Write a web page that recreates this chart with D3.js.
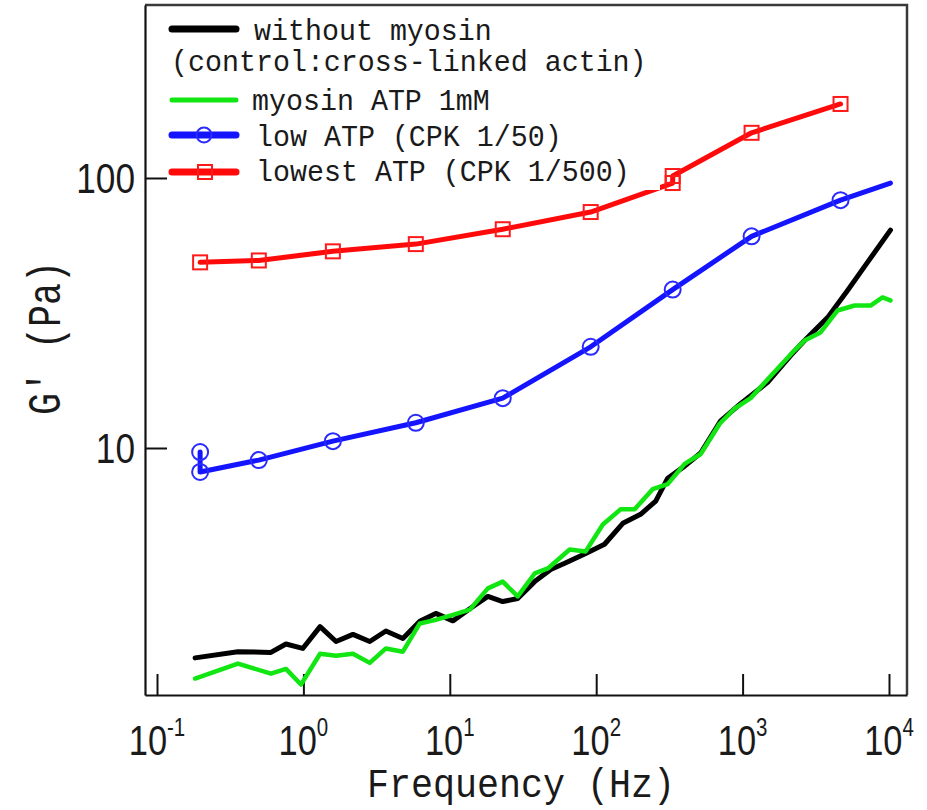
<!DOCTYPE html>
<html>
<head>
<meta charset="utf-8">
<script src="https://cdn.jsdelivr.net/npm/d3@7"></script>
<style>
  body { margin: 0; background: #fff; }
</style>
</head>
<body>
<div id="chart"></div>
<script>
// values (frequency in Hz, G' in Pa)
const blackFreq = [0.182, 0.357, 0.600, 0.760, 0.99, 1.30, 1.67, 2.18, 2.84, 3.66, 4.78, 6.24, 8.02, 10.5, 13.7, 18.2, 23.0, 29.1, 38.0, 48.9, 61.0, 84.8, 114, 152, 201, 255, 308, 402, 517, 708, 969, 1482, 2128, 2650, 3803, 5210, 7130, 10230];
const blackG = [1.67, 1.76, 1.75, 1.88, 1.81, 2.18, 1.92, 2.04, 1.92, 2.10, 1.97, 2.28, 2.44, 2.29, 2.54, 2.82, 2.70, 2.77, 3.20, 3.55, 3.74, 4.07, 4.40, 5.26, 5.68, 6.36, 7.73, 8.57, 9.58, 12.6, 14.6, 17.5, 22.0, 25.0, 30.4, 38.3, 48.7, 64.1];

const greenFreq = [0.182, 0.357, 0.600, 0.760, 0.962, 1.30, 1.67, 2.18, 2.84, 3.66, 4.78, 6.24, 8.02, 10.5, 13.7, 18.2, 23.0, 29.1, 38.0, 46.7, 65.9, 84.8, 111, 147, 183, 243, 308, 402, 517, 697, 882, 1135, 1603, 2264, 2650, 3407, 4448, 5820, 7480, 9030, 10230];
const greenG = [1.40, 1.59, 1.46, 1.52, 1.33, 1.73, 1.70, 1.73, 1.60, 1.81, 1.76, 2.24, 2.31, 2.41, 2.52, 3.02, 3.20, 2.82, 3.43, 3.58, 4.21, 4.14, 5.21, 5.93, 5.93, 7.04, 7.35, 8.73, 9.50, 12.3, 14.0, 15.3, 18.8, 23.0, 25.0, 26.8, 32.3, 33.7, 33.7, 36.1, 35.2];

const blueFreq = [0.197, 0.197, 0.496, 1.59, 5.86, 23.0, 91.7, 333, 1152, 4667, 10230];
const blueG = [9.66, 8.15, 9.02, 10.6, 12.4, 15.3, 23.7, 38.6, 60.8, 82.8, 95.8];
const blueMarked = 10; // the last blue point has no marker

const redFreq = [0.197, 0.496, 1.59, 5.86, 23.0, 91.7, 333, 333, 1152, 4667];
const redG = [48.7, 49.5, 53.5, 56.9, 64.6, 74.8, 95.8, 101.7, 147, 188];

const xExponents = [-1, 0, 1, 2, 3, 4];
const yTicks = [10, 100];

const legendLabels = ["without myosin", "(control:cross-linked actin)", "myosin ATP 1mM", "low ATP (CPK 1/50)", "lowest ATP (CPK 1/500)"];

const width = 927, height = 810;
const frame = { left: 145, right: 907, top: 5, bottom: 695 };
const monoFont = "'Liberation Mono', 'DejaVu Sans Mono', monospace";
const tickFont = "'Liberation Sans', Arial, sans-serif";

const svg = d3.select("#chart")
  .append("svg")
  .attr("width", width)
  .attr("height", height);

const x = d3.scaleLog()
  .domain([Math.pow(10, -1.082), Math.pow(10, 4.123)])
  .range([frame.left, frame.right]);

const y = d3.scaleLog()
  .domain([Math.pow(10, 0.0852), Math.pow(10, 2.6407)])
  .range([frame.bottom, frame.top]);

// top and right frame
svg.append("path")
  .attr("d", `M${frame.left},${frame.top}H${frame.right}V${frame.bottom}`)
  .attr("fill", "none")
  .attr("stroke", "#3a3a3a")
  .attr("stroke-width", 2.5);

// X axis
const xAxis = svg.append("g")
  .attr("transform", `translate(0,${frame.bottom})`)
  .call(d3.axisBottom(x)
    .tickValues(xExponents.map(e => Math.pow(10, e)))
    .tickSize(-21)
    .tickSizeOuter(0)
    .tickFormat(""));
xAxis.select(".domain").attr("stroke", "#111").attr("stroke-width", 2.2);
xAxis.selectAll(".tick line").attr("stroke", "#111").attr("stroke-width", 2);

// Y axis
const yAxis = svg.append("g")
  .attr("transform", `translate(${frame.left},0)`)
  .call(d3.axisLeft(y)
    .tickValues(yTicks)
    .tickSize(-22)
    .tickSizeOuter(0)
    .tickFormat(""));
yAxis.select(".domain").attr("stroke", "#111").attr("stroke-width", 2.2);
yAxis.selectAll(".tick line").attr("stroke", "#111").attr("stroke-width", 2);

// x tick labels 10^n
xExponents.forEach(e => {
  const t = svg.append("text")
    .attr("transform", `translate(${x(Math.pow(10, e))},755) scale(0.82,1)`)
    .attr("text-anchor", "middle")
    .attr("font-family", tickFont)
    .attr("fill", "#1a1a1a");
  t.append("tspan").attr("font-size", 42).text("10");
  t.append("tspan").attr("font-size", 25).attr("dy", -19).text(String(e));
});

// y tick labels
yTicks.forEach(v => {
  svg.append("text")
    .attr("transform", `translate(135,${y(v)}) scale(0.82,1)`)
    .attr("text-anchor", "end")
    .attr("dy", "0.36em")
    .attr("font-family", tickFont)
    .attr("font-size", 43)
    .attr("fill", "#1a1a1a")
    .text(d3.format("d")(v));
});

// axis titles
svg.append("text")
  .attr("transform", "translate(521,797) scale(0.917,1)")
  .attr("text-anchor", "middle")
  .attr("font-family", monoFont)
  .attr("font-size", 40)
  .attr("fill", "#1a1a1a")
  .text("Frequency (Hz)");

svg.append("text")
  .attr("transform", "translate(60,338) rotate(-90) scale(0.797,1)")
  .attr("text-anchor", "middle")
  .attr("font-family", monoFont)
  .attr("font-size", 46)
  .attr("fill", "#1a1a1a")
  .text("G' (Pa)");

// series lines
const line = d3.line()
  .x(d => x(d[0]))
  .y(d => y(d[1]));

function drawLine(freq, g, color, w) {
  svg.append("path")
    .datum(d3.zip(freq, g))
    .attr("fill", "none")
    .attr("stroke", color)
    .attr("stroke-width", w)
    .attr("stroke-linejoin", "round")
    .attr("stroke-linecap", "round")
    .attr("d", line);
}

drawLine(blackFreq, blackG, "#000", 5);
drawLine(greenFreq, greenG, "#12e612", 4.5);
drawLine(blueFreq, blueG, "#1414ff", 5);
drawLine(redFreq, redG, "#ff0a0a", 5);

// markers
svg.selectAll("circle.blue")
  .data(d3.zip(blueFreq, blueG).slice(0, blueMarked))
  .enter()
  .append("circle")
  .attr("cx", d => x(d[0]))
  .attr("cy", d => y(d[1]))
  .attr("r", 8)
  .attr("fill", "none")
  .attr("stroke", "#2a2aff")
  .attr("stroke-width", 2);

svg.selectAll("rect.red")
  .data(d3.zip(redFreq, redG))
  .enter()
  .append("rect")
  .attr("x", d => x(d[0]) - 7)
  .attr("y", d => y(d[1]) - 7)
  .attr("width", 14)
  .attr("height", 14)
  .attr("fill", "none")
  .attr("stroke", "#ff1a1a")
  .attr("stroke-width", 2);

// legend (white box covers the plot beneath it)
const legend = svg.append("g");
legend.append("rect")
  .attr("x", 168).attr("y", 7)
  .attr("width", 492).attr("height", 183)
  .attr("fill", "#fff");

const sample = [
  { yLine: 29, color: "#000", w: 7 },
  { yLine: 100, color: "#12e612", w: 5 },
  { yLine: 135, color: "#1414ff", w: 7, marker: "circle" },
  { yLine: 172, color: "#ff0a0a", w: 7, marker: "square" }
];
sample.forEach(s => {
  legend.append("line")
    .attr("x1", 172).attr("x2", 236)
    .attr("y1", s.yLine).attr("y2", s.yLine)
    .attr("stroke", s.color)
    .attr("stroke-width", s.w)
    .attr("stroke-linecap", "round");
  if (s.marker === "circle") {
    legend.append("circle")
      .attr("cx", 204).attr("cy", s.yLine).attr("r", 7.5)
      .attr("fill", "none").attr("stroke", "#2a2aff").attr("stroke-width", 2);
  }
  if (s.marker === "square") {
    legend.append("rect")
      .attr("x", 198).attr("y", s.yLine - 7).attr("width", 14).attr("height", 14)
      .attr("fill", "none").attr("stroke", "#ff1a1a").attr("stroke-width", 2);
  }
});

const legendText = [
  { x: 254, y: 40 },
  { x: 171, y: 71 },
  { x: 252, y: 110 },
  { x: 256, y: 146 },
  { x: 256, y: 181 }
];
legendLabels.forEach((label, i) => {
  legend.append("text")
    .attr("transform", `translate(${legendText[i].x},${legendText[i].y}) scale(0.944,1)`)
    .attr("font-family", monoFont)
    .attr("font-size", 30)
    .attr("fill", "#1a1a1a")
    .text(label);
});
</script>
</body>
</html>
